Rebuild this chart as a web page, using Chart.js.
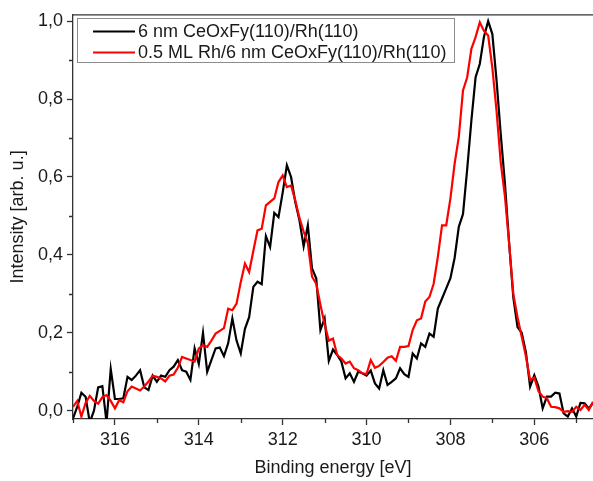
<!DOCTYPE html>
<html>
<head>
<meta charset="utf-8">
<title>Ce 4d / Rh XPS</title>
<script src="https://cdn.jsdelivr.net/npm/chart.js@4.4.3/dist/chart.umd.min.js"></script>
<style>
	html, body { margin: 0; padding: 0; background: #fff; }
	#wrap { position: relative; width: 593px; height: 481px; }
</style>
</head>
<body>
<div id="wrap"><canvas id="xps"></canvas></div>
<script>
// =========================================================
// Data
// =========================================================

var seriesLabels = ['6 nm CeOxFy(110)/Rh(110)', '0.5 ML Rh/6 nm CeOxFy(110)/Rh(110)'];

// Binding energy [eV], 0.1 eV steps.
var energy = [
	317.0, 316.9, 316.8, 316.7, 316.6, 316.5, 316.4, 316.3, 316.2, 316.1,
	316.0, 315.9, 315.8, 315.7, 315.6, 315.5, 315.4, 315.3, 315.2, 315.1,
	315.0, 314.9, 314.8, 314.7, 314.6, 314.5, 314.4, 314.3, 314.2, 314.1,
	314.0, 313.9, 313.8, 313.7, 313.6, 313.5, 313.4, 313.3, 313.2, 313.1,
	313.0, 312.9, 312.8, 312.7, 312.6, 312.5, 312.4, 312.3, 312.2, 312.1,
	312.0, 311.9, 311.8, 311.7, 311.6, 311.5, 311.4, 311.3, 311.2, 311.1,
	311.0, 310.9, 310.8, 310.7, 310.6, 310.5, 310.4, 310.3, 310.2, 310.1,
	310.0, 309.9, 309.8, 309.7, 309.6, 309.5, 309.4, 309.3, 309.2, 309.1,
	309.0, 308.9, 308.8, 308.7, 308.6, 308.5, 308.4, 308.3, 308.2, 308.1,
	308.0, 307.9, 307.8, 307.7, 307.6, 307.5, 307.4, 307.3, 307.2, 307.1,
	307.0, 306.9, 306.8, 306.7, 306.6, 306.5, 306.4, 306.3, 306.2, 306.1,
	306.0, 305.9, 305.8, 305.7, 305.6, 305.5, 305.4, 305.3, 305.2, 305.1,
	305.0, 304.9, 304.8, 304.7, 304.6
];

// 6 nm CeOxFy(110)/Rh(110) (black).
var ceriaOnly = [
	-0.02, 0.01, 0.046, 0.036, -0.03, 0.0, 0.06, 0.063, -0.03, 0.107,
	0.03, 0.03, 0.032, 0.087, 0.079, 0.09, 0.104, 0.06, 0.053, 0.09,
	0.074, 0.09, 0.087, 0.104, 0.113, 0.13, 0.104, 0.1, 0.079, 0.16,
	0.12, 0.2, 0.1, 0.13, 0.16, 0.162, 0.14, 0.173, 0.237, 0.18,
	0.147, 0.21, 0.24, 0.318, 0.331, 0.325, 0.448, 0.42, 0.508, 0.497,
	0.56, 0.63, 0.6, 0.536, 0.489, 0.422, 0.476, 0.365, 0.34, 0.207,
	0.237, 0.128, 0.157, 0.143, 0.126, 0.083, 0.096, 0.074, 0.1, 0.096,
	0.09, 0.103, 0.07, 0.057, 0.104, 0.066, 0.074, 0.083, 0.109, 0.094,
	0.087, 0.147, 0.134, 0.173, 0.164, 0.198, 0.19, 0.262, 0.288, 0.314,
	0.34, 0.392, 0.472, 0.505, 0.62, 0.745, 0.856, 0.89, 0.96, 1.0,
	0.967, 0.848, 0.71, 0.583, 0.43, 0.29, 0.215, 0.2, 0.15, 0.062,
	0.091, 0.062, 0.006, 0.036, 0.036, 0.046, 0.044, -0.007, -0.015, 0.006,
	-0.015, 0.02, 0.019, 0.006, 0.02
];

// 0.5 ML Rh/6 nm CeOxFy(110)/Rh(110) (red).
var rhOnCeria = [
	0.01, 0.025, -0.015, 0.02, 0.038, 0.025, 0.018, 0.035, 0.04, 0.025,
	0.006, 0.027, 0.022, 0.05, 0.062, 0.057, 0.052, 0.062, 0.075, 0.09,
	0.087, 0.083, 0.075, 0.09, 0.093, 0.11, 0.138, 0.134, 0.13, 0.126,
	0.16, 0.168, 0.164, 0.18, 0.198, 0.205, 0.212, 0.262, 0.258, 0.275,
	0.33, 0.378, 0.356, 0.41, 0.463, 0.467, 0.527, 0.536, 0.545, 0.587,
	0.604, 0.574, 0.578, 0.54, 0.495, 0.46, 0.43, 0.344, 0.326, 0.272,
	0.222, 0.18, 0.185, 0.143, 0.134, 0.121, 0.126, 0.109, 0.104, 0.096,
	0.094, 0.13, 0.11, 0.115, 0.125, 0.136, 0.14, 0.128, 0.164, 0.164,
	0.166, 0.207, 0.232, 0.237, 0.28, 0.292, 0.326, 0.395, 0.476, 0.476,
	0.545, 0.634, 0.703, 0.822, 0.856, 0.929, 0.959, 0.997, 0.975, 0.963,
	0.88, 0.77, 0.637, 0.55, 0.43, 0.3, 0.24, 0.19, 0.14, 0.079,
	0.085, 0.05, 0.036, 0.032, 0.01, 0.009, 0.006, -0.003, -0.001, -0.003,
	0.01, 0.002, 0.015, 0.002, 0.023
];

var xMajorTicks = [316, 314, 312, 310, 308, 306];
var xMinorTicks = [317, 315, 313, 311, 309, 307, 305];
var yMajorTicks = [0, 0.2, 0.4, 0.6, 0.8, 1.0];
var yMinorTicks = [0.1, 0.3, 0.5, 0.7, 0.9];

(function () {
	'use strict';

	var FONT = '"Liberation Sans", Arial, sans-serif';
	var AXIS = '#333';
	var TEXT = '#1a1a1a';

	function toPoints(ys) {
		return energy.map(function (e, i) { return { x: e, y: ys[i] }; });
	}

	function setTicks(list) {
		return function (scale) {
			scale.ticks = list.map(function (v) { return { value: v }; });
		};
	}

	// Top frame line, minor ticks and the boxed legend.
	var framePlugin = {
		id: 'frame',
		afterDraw: function (chart) {
			var ctx = chart.ctx;
			var area = chart.chartArea;
			var xs = chart.scales.x;
			var ys = chart.scales.y;

			ctx.save();
			ctx.strokeStyle = AXIS;
			ctx.lineWidth = 1.3;
			ctx.beginPath();
			ctx.moveTo(area.left, area.top);
			ctx.lineTo(area.right, area.top);
			xMinorTicks.forEach(function (v) {
				var px = Math.round(xs.getPixelForValue(v)) + 0.5;
				ctx.moveTo(px, area.bottom);
				ctx.lineTo(px, area.bottom + 4);
			});
			yMinorTicks.forEach(function (v) {
				var py = Math.round(ys.getPixelForValue(v)) + 0.5;
				ctx.moveTo(area.left, py);
				ctx.lineTo(area.left - 4, py);
			});
			ctx.stroke();

			// Legend box.
			ctx.strokeStyle = '#8c8c8c';
			ctx.lineWidth = 1;
			ctx.strokeRect(77.5, 18.5, 377, 44);
			ctx.font = '18px ' + FONT;
			ctx.textBaseline = 'middle';
			ctx.fillStyle = TEXT;
			chart.data.datasets.forEach(function (ds, i) {
				var y = 31.5 + i * 21;
				ctx.strokeStyle = ds.borderColor;
				ctx.lineWidth = 2.2;
				ctx.beginPath();
				ctx.moveTo(93, y);
				ctx.lineTo(135, y);
				ctx.stroke();
				ctx.fillText(ds.label, 138, y + 1);
			});
			ctx.restore();
		}
	};

	document.addEventListener('DOMContentLoaded', function () {
		var canvas = document.getElementById('xps');

		new Chart(canvas, {
			type: 'line',
			data: {
				datasets: [
					{
						label: seriesLabels[0],
						data: toPoints(ceriaOnly),
						borderColor: '#000000',
						borderWidth: 2.2,
						pointRadius: 0,
						tension: 0,
						order: 1,
					},
					{
						label: seriesLabels[1],
						data: toPoints(rhOnCeria),
						borderColor: '#ff0000',
						borderWidth: 2.2,
						pointRadius: 0,
						tension: 0,
						order: 0,
					},
				],
			},
			options: {
				responsive: true,
				maintainAspectRatio: false,
				animation: false,
				devicePixelRatio: 1,
				layout: { padding: { top: 14, right: 0, bottom: 0, left: 0 } },
				plugins: {
					legend: { display: false },
					tooltip: { enabled: false },
				},
				scales: {
					x: {
						type: 'linear',
						reverse: true,
						min: 304.6,
						max: 317,
						afterBuildTicks: setTicks(xMajorTicks),
						afterFit: function (s) { s.height = 62; },
						border: { display: true, color: AXIS, width: 1.3 },
						grid: { drawOnChartArea: false, drawTicks: true, tickLength: 6, tickWidth: 1.3, tickColor: AXIS },
						ticks: {
							color: TEXT,
							font: { family: FONT, size: 18 },
							padding: 4,
							maxRotation: 0,
							autoSkip: false,
							callback: function (v) { return String(v); },
						},
						title: {
							display: true,
							text: 'Binding energy [eV]',
							color: TEXT,
							font: { family: FONT, size: 18 },
							padding: { top: 0, bottom: 2 },
						},
					},
					y: {
						type: 'linear',
						min: -0.0213,
						max: 1.0164,
						afterBuildTicks: setTicks(yMajorTicks),
						afterFit: function (s) { s.width = 73; },
						border: { display: true, color: AXIS, width: 1.3 },
						grid: { drawOnChartArea: false, drawTicks: true, tickLength: 6, tickWidth: 1.3, tickColor: AXIS },
						ticks: {
							color: TEXT,
							font: { family: FONT, size: 18 },
							padding: 4,
							autoSkip: false,
							callback: function (v) { return v.toFixed(1).replace('.', ','); },
						},
						title: {
							display: true,
							text: 'Intensity [arb. u.]',
							color: TEXT,
							font: { family: FONT, size: 18 },
							padding: { top: 7, bottom: 0 },
						},
					},
				},
			},
			plugins: [framePlugin],
		});
	});
})();
</script>
</body>
</html>
